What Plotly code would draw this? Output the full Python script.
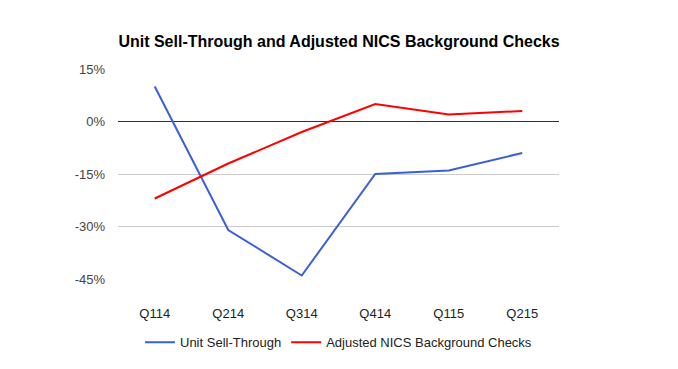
import plotly.graph_objects as go

categories = ["Q114", "Q214", "Q314", "Q414", "Q115", "Q215"]
unit_sell_through = [0.10, -0.31, -0.44, -0.15, -0.14, -0.09]
nics_checks = [-0.22, -0.12, -0.03, 0.05, 0.02, 0.03]
y_ticks = [0.15, 0.0, -0.15, -0.30, -0.45]
y_tick_labels = ["15%", "0%", "-15%", "-30%", "-45%"]

TOP, BOTTOM = 69, 88
PLOT_H = 369 - TOP - BOTTOM

fig = go.Figure()
fig.add_trace(go.Scatter(x=categories, y=unit_sell_through, mode="lines",
                         name="Unit Sell-Through",
                         line=dict(color="#3b5fd6", width=2)))
fig.add_trace(go.Scatter(x=categories, y=nics_checks, mode="lines",
                         name="Adjusted NICS Background Checks",
                         line=dict(color="#ff0000", width=2)))

fig.update_layout(
    width=678, height=369,
    margin=dict(l=118, r=119, t=TOP, b=BOTTOM),
    paper_bgcolor="white", plot_bgcolor="white",
    font=dict(family="Arial, Liberation Sans, sans-serif", size=13, color="#222222"),
    title=dict(text="<b>Unit Sell-Through and Adjusted NICS Background Checks</b>",
               x=0.5, xanchor="center", y=1 - 41/369, yanchor="middle",
               font=dict(size=16, color="#000000")),
    showlegend=True,
    legend=dict(orientation="h", x=0.5, xanchor="center",
                y=-(345 - (369 - BOTTOM)) / PLOT_H, yanchor="middle",
                font=dict(size=13, color="#222222"), itemwidth=30, tracegroupgap=0),
    xaxis=dict(type="category", range=[-0.5, 5.5], showgrid=False, zeroline=False,
               showline=False, ticks="", ticklabelstandoff=25,
               tickfont=dict(size=13, color="#222222"), fixedrange=True),
    yaxis=dict(range=[-0.45, 0.15], tickvals=y_ticks, ticktext=y_tick_labels,
               showgrid=True, gridcolor="#cccccc", gridwidth=1,
               zeroline=True, zerolinecolor="#333333", zerolinewidth=1,
               showline=False, ticks="", ticklabelstandoff=12,
               tickfont=dict(size=13, color="#444444"), fixedrange=True),
)

fig.write_html("out.html", config={"displayModeBar": False},
               post_script="document.body.style.margin='0';document.body.style.padding='0';")
